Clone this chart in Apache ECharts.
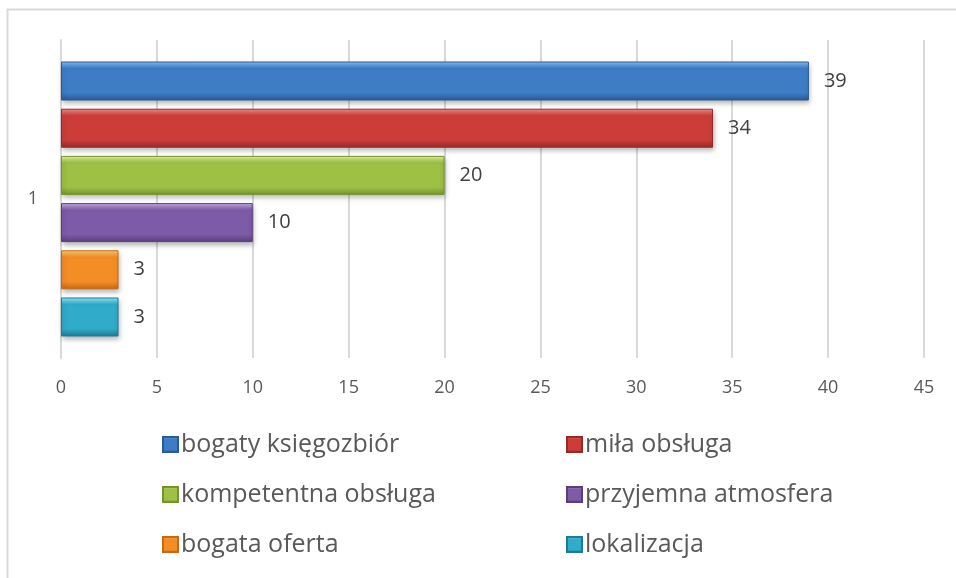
<!DOCTYPE html>
<html>
<head>
<meta charset="utf-8">
<script src="https://cdn.jsdelivr.net/npm/echarts@6/dist/echarts.min.js"></script>
<style>
  html, body { margin: 0; padding: 0; background: #fff; }
  #chart { width: 956px; height: 578px; }
</style>
</head>
<body>
<div id="chart"></div>
<script>
const categories = ['1'];
const seriesNames = ['bogaty księgozbiór', 'miła obsługa', 'kompetentna obsługa', 'przyjemna atmosfera', 'bogata oferta', 'lokalizacja'];
const seriesValues = [[39], [34], [20], [10], [3], [3]];
const xTicks = { min: 0, max: 45, interval: 5 };

// top highlight, body, bottom shade
const palette = [
  ['#8cc2f4', '#3f7cc6', '#2c5a92'],
  ['#f59292', '#cc3d3a', '#962a28'],
  ['#e8f79a', '#9dc045', '#74942f'],
  ['#cdb0ea', '#7e5ba8', '#5a3f7c'],
  ['#ffcf78', '#f58d26', '#c46a14'],
  ['#96ecfa', '#30abc9', '#1d7b94'],
];

const grad = (c) => new echarts.graphic.LinearGradient(0, 0, 0, 1, [
  { offset: 0, color: c[0] },
  { offset: 0.18, color: c[1] },
  { offset: 0.8, color: c[1] },
  { offset: 1, color: c[2] },
]);

const textColor = '#595959';
const font = 'Open Sans';

const legendText = { color: textColor, fontSize: 25, lineHeight: 25, fontFamily: font, padding: [0, 0, 0, -2] };

const chart = echarts.init(document.getElementById('chart'));
chart.setOption({
  animation: false,
  textStyle: { fontFamily: font },
  graphic: [{
    type: 'rect',
    shape: { x: 7.5, y: 9.5, width: 1000, height: 1000 },
    style: { fill: 'none', stroke: '#d9d9d9', lineWidth: 2 },
    silent: true,
  }],
  grid: { left: 61, right: 32, top: 40, bottom: 220 },
  xAxis: {
    type: 'value',
    min: xTicks.min,
    max: xTicks.max,
    interval: xTicks.interval,
    axisLine: { show: false },
    axisTick: { show: false },
    axisLabel: { color: textColor, fontSize: 18, margin: 21, fontFamily: font },
    splitLine: { lineStyle: { color: '#d9d9d9', width: 2 } },
  },
  yAxis: {
    type: 'category',
    inverse: true,
    data: categories,
    axisLine: { show: true, lineStyle: { color: '#d9d9d9', width: 2 } },
    axisTick: { show: false },
    axisLabel: { color: textColor, fontSize: 18, margin: 23, fontFamily: font },
  },
  legend: [
    {
      orient: 'vertical', left: 157, top: 427, itemGap: 25,
      itemWidth: 15, itemHeight: 15, icon: 'rect',
      data: [seriesNames[0], seriesNames[2], seriesNames[4]],
      textStyle: legendText,
    },
    {
      orient: 'vertical', left: 561, top: 427, itemGap: 25,
      itemWidth: 15, itemHeight: 15, icon: 'rect',
      data: [seriesNames[1], seriesNames[3], seriesNames[5]],
      textStyle: legendText,
    },
  ],
  series: seriesNames.map((name, i) => ({
    name,
    type: 'bar',
    data: seriesValues[i],
    barWidth: 39,
    barGap: '21%',
    itemStyle: {
      color: grad(palette[i]),
      borderColor: palette[i][2],
      borderWidth: 1,
      shadowBlur: 5,
      shadowOffsetY: 3,
      shadowOffsetX: 1,
      shadowColor: 'rgba(0,0,0,0.3)',
    },
    label: {
      show: true,
      position: 'right',
      distance: 15,
      color: '#404040',
      fontSize: 20,
      fontFamily: font,
    },
  })),
});
</script>
</body>
</html>
